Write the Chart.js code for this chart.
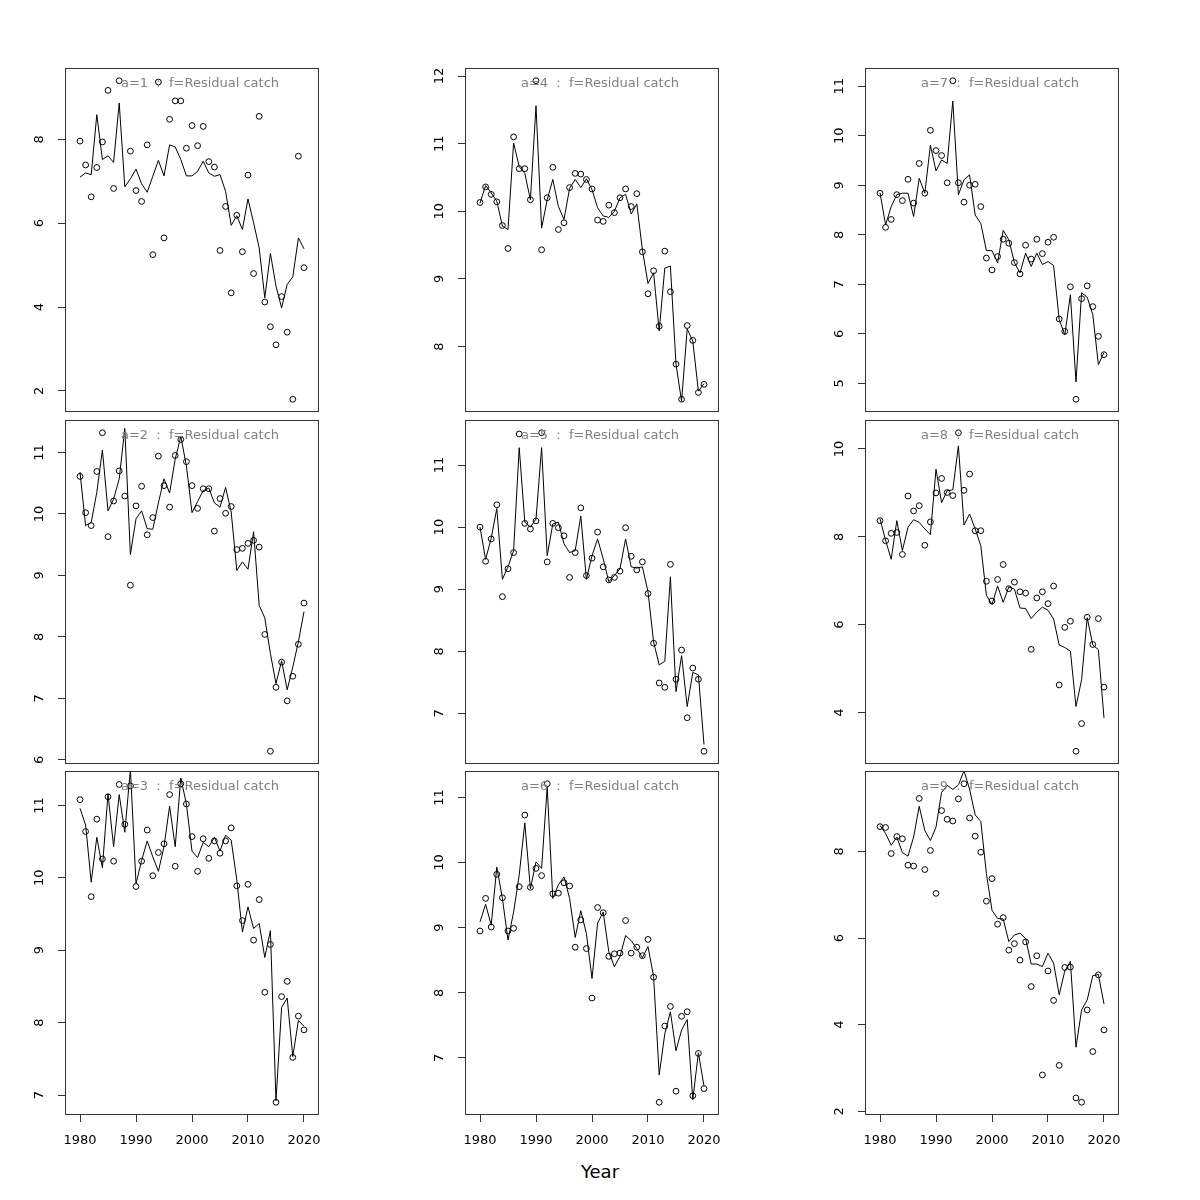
<!DOCTYPE html>
<html>
<head>
<meta charset="utf-8">
<script src="https://cdn.jsdelivr.net/npm/chart.js"></script>
<style>
  body { margin: 0; background: #fff; }
  #page { position: relative; width: 1200px; height: 1200px; font-family: "DejaVu Sans", sans-serif; }
  canvas { position: absolute; }
  #xlab { position: absolute; left: 0; width: 1200px; top: 1161px; text-align: center; font-size: 18px; line-height: 22px; color: #000; }
</style>
</head>
<body>
<div id="page">
  <div id="xlab">Year</div>
</div>
<script>
const years = [];
for (let y = 1980; y <= 2020; y++) years.push(y);

const xTicks = [1980, 1990, 2000, 2010, 2020];
const xMin = 1977.32, xMax = 2022.68;

// observed (circles) and fitted (line), one pair per age
const obs1 = [7.96,7.39,6.63,7.33,7.94,9.17,6.83,9.40,null,7.72,6.78,6.52,7.87,5.25,9.37,5.65,8.48,8.92,8.92,7.79,8.33,7.85,8.31,7.47,7.34,5.35,6.40,4.34,6.19,5.32,7.15,4.80,8.55,4.12,3.53,3.10,4.25,3.40,1.80,7.60,4.94];
const fit1 = [7.10,7.20,7.16,8.59,7.52,7.61,7.45,8.87,6.87,7.06,7.29,6.94,6.74,7.12,7.50,7.13,7.87,7.82,7.52,7.13,7.13,7.24,7.48,7.20,7.12,7.16,6.76,5.95,6.18,5.85,6.58,6.01,5.41,4.22,5.28,4.50,3.98,4.54,4.72,5.65,5.39];

const obs2 = [10.61,10.02,9.81,10.69,11.32,9.63,10.21,10.70,10.29,8.84,10.13,10.45,9.66,9.94,10.94,10.46,10.11,10.95,11.21,10.85,10.46,10.09,10.41,10.41,9.72,10.25,10.01,10.12,9.42,9.44,9.52,9.57,9.46,8.04,6.14,7.18,7.59,6.96,7.36,7.88,8.55];
const fit2 = [10.68,9.81,9.86,10.35,11.04,10.05,10.24,10.57,11.39,9.34,9.92,10.05,9.76,9.75,10.18,10.57,10.34,10.89,11.26,10.78,10.02,10.20,10.38,10.42,10.18,10.11,10.43,10.03,9.08,9.22,9.10,9.71,8.51,8.31,7.73,7.24,7.61,7.14,7.51,7.92,8.41];

const obs3 = [11.08,10.64,9.74,10.81,10.26,11.12,10.23,11.29,10.74,11.27,9.88,10.23,10.66,10.03,10.35,10.47,11.15,10.16,11.30,11.02,10.57,10.09,10.54,10.27,10.51,10.34,10.51,10.69,9.89,9.41,9.91,9.14,9.70,8.42,9.08,6.90,8.36,8.57,7.52,8.09,7.90];
const fit3 = [10.96,10.73,9.94,10.56,10.14,11.16,10.43,11.15,10.63,11.50,9.92,10.24,10.51,10.29,10.09,10.43,10.99,10.43,11.38,11.02,10.37,10.28,10.49,10.43,10.56,10.37,10.59,10.52,9.97,9.25,9.60,9.30,9.37,8.90,9.27,6.92,8.21,8.34,7.53,8.03,7.95];

const obs4 = [10.13,10.36,10.25,10.14,9.79,9.45,11.10,10.63,10.63,10.17,11.93,9.43,10.20,10.65,9.73,9.83,10.35,10.56,10.55,10.47,10.33,9.87,9.85,10.09,9.98,10.20,10.33,10.07,10.26,9.40,8.78,9.12,8.30,9.41,8.81,7.74,7.22,8.31,8.09,7.32,7.44];
const fit4 = [10.12,10.38,10.27,10.15,9.78,9.73,11.01,10.66,10.56,10.17,11.56,9.75,10.17,10.47,10.07,9.88,10.34,10.47,10.35,10.48,10.32,10.05,9.93,9.91,10.00,10.20,10.25,9.96,10.11,9.43,8.93,9.09,8.23,9.16,9.19,7.74,7.19,8.26,8.08,7.34,7.45];

const obs5 = [10.00,9.45,9.81,10.36,8.88,9.33,9.59,11.50,10.06,9.97,10.10,11.52,9.44,10.06,9.99,9.86,9.19,9.59,10.31,9.22,9.50,9.92,9.36,9.15,9.19,9.29,9.99,9.53,9.31,9.44,8.93,8.13,7.49,7.42,9.40,7.55,8.02,6.93,7.73,7.55,6.39];
const fit5 = [10.00,9.48,9.82,10.30,9.16,9.36,9.62,11.28,10.08,10.00,10.13,11.28,9.54,10.05,10.08,9.73,9.59,9.62,10.18,9.16,9.54,9.81,9.49,9.12,9.22,9.33,9.81,9.36,9.34,9.36,8.96,8.15,7.78,7.84,9.20,7.35,7.93,7.11,7.66,7.62,6.50];

const obs6 = [8.95,9.45,9.01,9.82,9.46,8.95,8.99,9.63,10.73,9.62,9.91,9.80,11.21,9.52,9.53,9.69,9.64,8.70,9.12,8.68,7.92,9.31,9.23,8.56,8.60,8.61,9.11,8.61,8.70,8.57,8.82,8.24,6.32,7.49,7.79,6.49,7.64,7.71,6.42,7.07,6.53];
const fit6 = [9.09,9.36,9.04,9.93,9.45,8.81,9.24,9.81,10.61,9.60,10.01,9.91,11.16,9.45,9.66,9.78,9.45,8.85,9.26,8.91,8.22,9.07,9.24,8.63,8.40,8.56,8.88,8.80,8.68,8.54,8.71,8.25,6.74,7.37,7.71,7.11,7.43,7.59,6.36,7.08,6.57];

const obs7 = [8.84,8.15,8.31,8.81,8.69,9.12,8.64,9.44,8.84,10.11,9.70,9.60,9.05,11.11,9.05,8.66,9.00,9.02,8.57,7.53,7.29,7.56,7.91,7.83,7.44,7.21,7.79,7.51,7.91,7.62,7.85,7.95,6.30,6.05,6.95,4.68,6.71,6.97,6.55,5.95,5.58];
const fit7 = [8.85,8.20,8.57,8.81,8.84,8.84,8.37,9.14,8.84,9.81,9.29,9.51,9.44,10.70,8.81,9.11,9.21,8.40,8.23,7.68,7.68,7.43,8.09,7.90,7.44,7.23,7.63,7.36,7.63,7.40,7.46,7.38,6.29,5.98,6.79,5.03,6.83,6.74,6.39,5.38,5.62];

const obs8 = [8.37,7.91,8.08,8.10,7.60,8.93,8.59,8.71,7.81,8.34,9.00,9.33,9.01,8.94,10.37,9.06,9.43,8.14,8.14,6.99,6.54,7.03,7.37,6.82,6.97,6.75,6.72,5.44,6.61,6.75,6.48,6.88,4.63,5.94,6.08,3.12,3.75,6.17,5.55,6.14,4.58];
const fit8 = [8.41,7.92,7.49,8.37,7.69,8.22,8.39,8.33,8.18,8.05,9.54,8.78,9.05,9.07,10.07,8.27,8.52,8.18,7.80,6.67,6.46,6.88,6.51,6.86,6.81,6.38,6.37,6.14,6.29,6.40,6.33,6.13,5.54,5.48,5.40,4.14,4.75,6.16,5.54,5.43,3.88];

const obs9 = [8.57,8.55,7.95,8.34,8.29,7.68,7.66,9.22,7.58,8.02,7.03,8.94,8.74,8.70,9.21,9.56,8.77,8.35,7.98,6.85,7.37,6.32,6.47,5.72,5.87,5.49,5.91,4.88,5.59,2.84,5.24,4.56,3.06,5.32,5.33,2.31,2.21,4.34,3.38,5.15,3.88];
const fit9 = [8.60,8.41,8.14,8.33,7.97,7.89,8.33,9.04,8.48,8.25,8.56,9.36,9.52,9.43,9.53,9.86,9.43,8.84,8.69,7.49,6.64,6.45,6.44,5.92,6.07,6.11,5.99,5.40,5.40,5.34,5.65,5.42,4.69,5.24,5.46,3.48,4.34,4.57,5.13,5.16,4.48];

const yTicks1 = [2,4,6,8];
const yTicks2 = [6,7,8,9,10,11];
const yTicks3 = [7,8,9,10,11];
const yTicks4 = [8,9,10,11,12];
const yTicks5 = [7,8,9,10,11];
const yTicks6 = [7,8,9,10,11];
const yTicks7 = [5,6,7,8,9,10,11];
const yTicks8 = [4,6,8,10];
const yTicks9 = [2,4,6,8];

const ages = [1,2,3,4,5,6,7,8,9];
const obsAll = [obs1,obs2,obs3,obs4,obs5,obs6,obs7,obs8,obs9];
const fitAll = [fit1,fit2,fit3,fit4,fit5,fit6,fit7,fit8,fit9];
const tickAll = [yTicks1,yTicks2,yTicks3,yTicks4,yTicks5,yTicks6,yTicks7,yTicks8,yTicks9];

const colLeft = [65, 465, 865];
const rowTop = [68, 420, 771];
const plotW = 254, plotH = 344;
const padR = 16;
const FONT = '"DejaVu Sans", sans-serif';

// draws the R style box, rotated y labels and the panel title
const framePlugin = {
  id: 'frame',
  afterDraw(chart) {
    const { ctx, chartArea: a } = chart;
    const title = chart.options.plugins.frame.title;
    ctx.save();
    ctx.strokeStyle = '#333';
    ctx.lineWidth = 1;
    ctx.strokeRect(Math.round(a.left) + 0.5, Math.round(a.top) + 0.5, Math.round(a.width) - 1, Math.round(a.height) - 1);

    const ys = chart.scales.y;
    ctx.fillStyle = '#000';
    ctx.font = '13px ' + FONT;
    ctx.textAlign = 'center';
    ctx.textBaseline = 'middle';
    ys.ticks.forEach(t => {
      const py = ys.getPixelForValue(t.value);
      ctx.save();
      ctx.translate(a.left - 25, py);
      ctx.rotate(-Math.PI / 2);
      ctx.fillText(String(t.value), 0, 0);
      ctx.restore();
    });

    ctx.fillStyle = '#808080';
    ctx.fillText(title, a.left + a.width / 2 + 8, a.top + 16);
    ctx.restore();
  }
};

function makePanel(k) {
  const col = Math.floor(k / 3), row = k % 3;
  const bottom = row === 2;
  const obs = obsAll[k], fit = fitAll[k];
  const vals = obs.filter(v => v !== null);
  const lo = Math.min(...vals), hi = Math.max(...vals);
  const ext = (hi - lo) * 0.04;

  const cv = document.createElement('canvas');
  const w = 65 + plotW + padR;
  const h = 10 + plotH + (bottom ? 45 : 10);
  cv.width = w; cv.height = h;
  cv.style.left = (colLeft[col] - 65) + 'px';
  cv.style.top = (rowTop[row] - 10) + 'px';
  document.getElementById('page').appendChild(cv);

  new Chart(cv, {
    type: 'line',
    data: {
      datasets: [
        {
          data: years.map((yr, i) => ({ x: yr, y: obs[i] })),
          showLine: false,
          pointRadius: 2.9,
          pointBorderWidth: 1,
          pointBorderColor: '#000',
          pointBackgroundColor: 'rgba(0,0,0,0)',
        },
        {
          data: years.map((yr, i) => ({ x: yr, y: fit[i] })),
          borderColor: '#000',
          borderWidth: 1,
          pointRadius: 0,
          tension: 0,
          fill: false,
        },
      ],
    },
    options: {
      responsive: false,
      animation: false,
      devicePixelRatio: 1,
      layout: { padding: { left: 0, right: padR, top: 10, bottom: bottom ? 0 : 10 } },
      plugins: {
        legend: { display: false },
        tooltip: { enabled: false },
        frame: { title: 'a=' + ages[k] + '  :  f=Residual catch' },
      },
      scales: {
        x: {
          type: 'linear',
          min: xMin,
          max: xMax,
          display: bottom,
          afterBuildTicks: s => { s.ticks = xTicks.map(v => ({ value: v })); },
          afterFit: s => { s.height = bottom ? 45 : 0; },
          grid: { drawOnChartArea: false, tickLength: 7, color: '#333' },
          border: { display: false },
          ticks: { color: '#000', font: { family: FONT, size: 13 }, padding: 11, maxRotation: 0, callback: v => String(v) },
        },
        y: {
          type: 'linear',
          min: lo - ext,
          max: hi + ext,
          afterBuildTicks: s => { s.ticks = tickAll[k].map(v => ({ value: v })); },
          afterFit: s => { s.width = 65; },
          grid: { drawOnChartArea: false, tickLength: 7, color: '#333' },
          border: { display: false },
          ticks: { display: false },
        },
      },
    },
    plugins: [framePlugin],
  });
}

for (let k = 0; k < 9; k++) makePanel(k);
</script>
</body>
</html>
